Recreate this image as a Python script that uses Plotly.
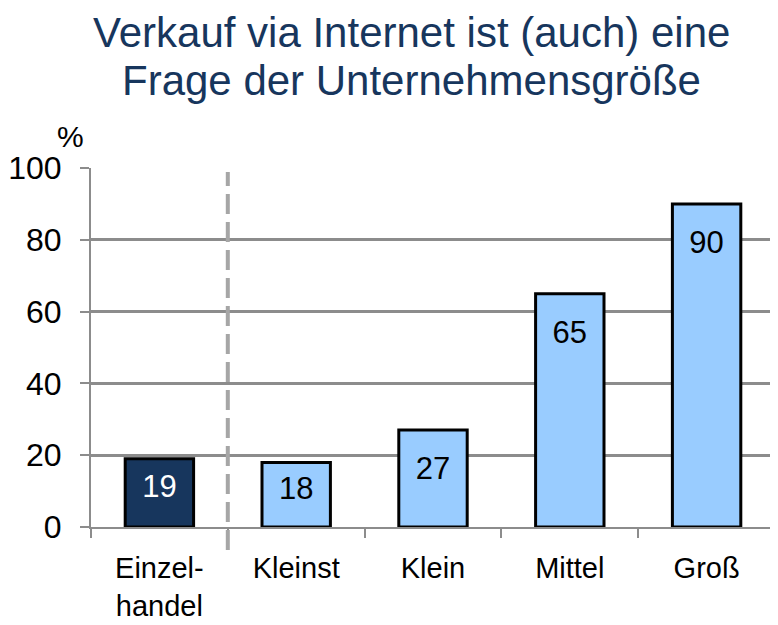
import plotly.graph_objects as go

# data
CATEGORIES = ["Einzel-<br>handel", "Kleinst", "Klein", "Mittel", "Groß"]
VALUES = [19, 18, 27, 65, 90]
TITLE_LINES = ["Verkauf via Internet ist (auch) eine", "Frage der Unternehmensgröße"]

DARK = "#17365d"
LIGHT = "#99ccff"
GRID = "#8c8c8c"
FONT = "Liberation Sans, Arial, sans-serif"

bar_colors = [DARK] + [LIGHT] * (len(VALUES) - 1)
text_colors = ["white"] + ["black"] * (len(VALUES) - 1)

# label position: near the top of tall bars, roughly centred on short ones
label_y = [max(v - 11.5, v * 0.55) for v in VALUES]

fig = go.Figure()
fig.add_trace(go.Bar(
    x=CATEGORIES,
    y=VALUES,
    width=0.5,
    marker=dict(color=bar_colors, line=dict(color="black", width=3)),
    hoverinfo="skip",
))
fig.add_trace(go.Scatter(
    x=CATEGORIES,
    y=label_y,
    mode="text",
    text=[str(v) for v in VALUES],
    textfont=dict(family=FONT, size=31, color=text_colors),
    hoverinfo="skip",
    cliponaxis=False,
))

# dashed separator between "Einzelhandel" and the size classes
sep = 1 / len(CATEGORIES)
fig.add_shape(type="line", xref="x domain", yref="paper",
              x0=sep, x1=sep, y0=-0.064, y1=0.989,
              line=dict(color="#a6a6a6", width=4, dash="20px,8px"))

# title: one annotation per line, so the line spacing can be tightened
for line, ypos in zip(TITLE_LINES, [1.308, 1.176]):
    fig.add_annotation(
        text=line, xref="paper", yref="paper", x=0.468, y=ypos,
        xanchor="center", yanchor="bottom", showarrow=False, borderpad=0,
        font=dict(family=FONT, size=42, color=DARK),
    )
fig.add_annotation(text="%", xref="paper", yref="paper", x=-0.03, y=1.035,
                   xanchor="center", yanchor="bottom", showarrow=False,
                   font=dict(family=FONT, size=30, color="black"))

# the page body adds an 8px offset, so the figure is 8px smaller
fig.update_layout(
    width=770, height=617,
    margin=dict(l=83, r=3, t=160, b=98),
    plot_bgcolor="white",
    paper_bgcolor="white",
    showlegend=False,
    bargap=0.5,
    xaxis=dict(
        type="category",
        automargin=False,
        tickson="boundaries",
        ticks="outside", ticklen=9, tickwidth=2, tickcolor=GRID,
        showline=True, linecolor=GRID, linewidth=2,
        showgrid=False,
        tickfont=dict(family=FONT, size=29, color="black"),
        ticklabelstandoff=14,
        range=[-0.5, len(CATEGORIES) - 0.5],
    ),
    yaxis=dict(
        range=[0, 100],
        automargin=False,
        tickvals=[0, 20, 40, 60, 80, 100],
        ticks="outside", ticklen=9, tickwidth=2, tickcolor=GRID,
        showline=True, linecolor=GRID, linewidth=2,
        showgrid=True, gridcolor=GRID, gridwidth=2.5,
        zeroline=False,
        tickfont=dict(family=FONT, size=32, color="black"),
        ticklabelstandoff=12,
    ),
)

fig.write_html("out.html")
